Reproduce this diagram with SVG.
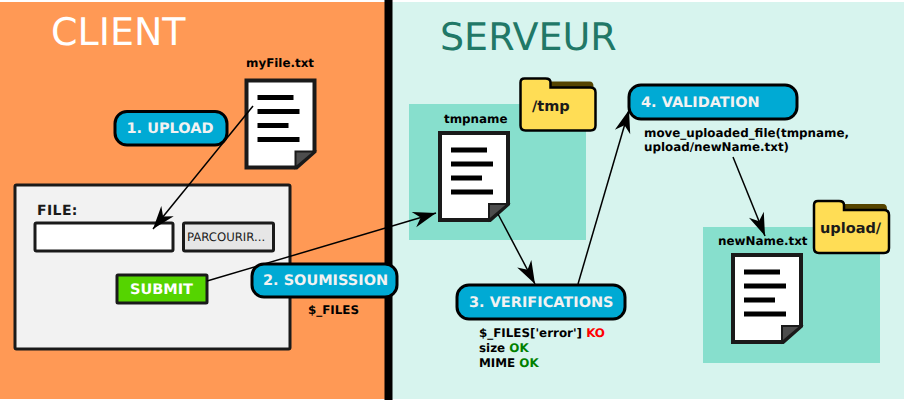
<svg xmlns="http://www.w3.org/2000/svg" width="904" height="400" viewBox="0 0 904 400">
<style>
text{font-family:"DejaVu Sans",sans-serif;text-rendering:geometricPrecision}
.b{font-weight:bold}
.lbl{font-weight:bold;font-size:11.9px;fill:#000}
.pill{fill:#00aad4;stroke:#000;stroke-width:3}
.pt{font-weight:bold;font-size:14.5px;fill:#f2f2f2}
.zone{fill:#87dfcd}
.cx{fill:none;stroke:#000;stroke-width:1.5;marker-end:url(#ah)}
</style>
<defs>
<marker id="ah" markerUnits="userSpaceOnUse" markerWidth="26" markerHeight="18" refX="23" refY="8" orient="auto" overflow="visible">
<path d="M23,8 L0,0 L7,8 L0,16 Z" fill="#000"/>
</marker>
<symbol id="doc" overflow="visible" width="72" height="91">
<path d="M2,2 H70 V73 L52,89 H2 Z" fill="#fff" stroke="#1a1a1a" stroke-width="4"/>
<path d="M51,89 V73 H70 Z" fill="#4d4d4d" stroke="#1a1a1a" stroke-width="2"/>
<path d="M13,19 H49 M13,33 H55 M13,47 H44 M13,61 H55" stroke="#000" stroke-width="5" fill="none"/>
</symbol>
<symbol id="folder" overflow="visible" width="77" height="54">
<path d="M30,4 H70 Q74,4 74,9 V14 H30 Z" fill="#554400"/>
<path d="M5,1 H26 Q31,1 31,5 V10 H71 Q76,10 76,15 V48 Q76,53 71,53 H6 Q1,53 1,48 V5 Q1,1 5,1 Z" fill="#ffdd55" stroke="#000" stroke-width="2.5"/>
</symbol>
</defs>
<rect x="0" y="0" width="904" height="400" fill="#fff"/>
<rect x="0" y="2" width="385" height="397" fill="#ff9955"/>
<rect x="392" y="2" width="512" height="397" fill="#d7f4ee"/>
<rect x="384.500" y="0" width="8" height="400" fill="#000"/>
<text x="51" y="44.500" font-size="38" fill="#fff">CLIENT</text>
<text x="440" y="50" font-size="38" fill="#217867">SERVEUR</text>

<g id="zone-tmp"><rect class="zone" x="409" y="104" width="177" height="136"/></g>
<g id="zone-upload"><rect class="zone" x="703" y="227" width="177" height="136"/></g>

<g id="form">
<rect x="15" y="185" width="275" height="164" rx="1.5" fill="#f2f2f2" stroke="#1a1a1a" stroke-width="3"/>
<text x="37" y="215" class="b" font-size="14" fill="#1a1a1a" letter-spacing=".4">FILE:</text>
</g>
<g id="input"><rect x="35" y="223" width="138" height="28" rx="1.5" fill="#fff" stroke="#1a1a1a" stroke-width="3"/></g>
<g id="browse">
<rect x="183.500" y="223" width="90" height="28" rx="1.5" fill="#e6e6e6" stroke="#1a1a1a" stroke-width="3"/>
<text x="187" y="240.500" font-size="11.700" fill="#1a1a1a">PARCOURIR...</text>
</g>
<g id="submit">
<rect x="117" y="275" width="90" height="28" rx="1" fill="#55d400" stroke="#1a1a1a" stroke-width="3"/>
<text x="130" y="294" class="b" font-size="14.500" fill="#fff">SUBMIT</text>
</g>

<g id="myfile">
<text x="246" y="67" class="lbl">myFile.txt</text>
<use href="#doc" x="244.500" y="78.500"/>
</g>
<g id="tmpfile">
<text x="444" y="123" class="lbl">tmpname</text>
<use href="#doc" x="438" y="131"/>
</g>
<g id="newfile">
<text x="718" y="245" class="lbl">newName.txt</text>
<use href="#doc" x="731" y="253"/>
</g>
<g id="folder-tmp">
<use href="#folder" x="519.500" y="77.500"/>
<text x="532" y="111" class="b" font-size="14.500" fill="#1a1a1a">/tmp</text>
</g>
<g id="folder-upload">
<use href="#folder" x="813" y="200"/>
<text x="820" y="233" class="b" font-size="14.500" fill="#1a1a1a">upload/</text>
</g>

<g id="step1">
<rect class="pill" x="115" y="111.500" width="112" height="33.500" rx="12"/>
<text x="126.500" y="132.500" class="pt">1. UPLOAD</text>
</g>

<g id="connectors">
<path class="cx" d="M253,106 L153,229"/>
<path class="cx" d="M207,281 L436,213"/>
<path class="cx" d="M498,214 L535,284"/>
<path class="cx" d="M578,284 L629,110"/>
<path class="cx" d="M733,157 L765,236"/>
</g>

<g id="step2">
<rect class="pill" x="252" y="264" width="145" height="33" rx="12"/>
<text x="263" y="285" class="pt">2. SOUMISSION</text>
<text x="308" y="314" class="lbl">$_FILES</text>
</g>
<g id="step3">
<rect class="pill" x="457" y="285" width="168" height="34" rx="12"/>
<text x="469" y="306.500" class="pt">3. VERIFICATIONS</text>
<text x="479" y="337" class="lbl">$_FILES['error'] <tspan fill="#f00">KO</tspan></text>
<text x="479" y="352" class="lbl">size <tspan fill="#008000">OK</tspan></text>
<text x="479" y="367" class="lbl">MIME <tspan fill="#008000">OK</tspan></text>
</g>
<g id="step4">
<rect class="pill" x="629" y="85" width="168" height="34" rx="12"/>
<text x="641" y="106.500" class="pt">4. VALIDATION</text>
<text x="644" y="137" class="lbl">move_uploaded_file(tmpname,</text>
<text x="644" y="151" class="lbl">upload/newName.txt)</text>
</g>
</svg>
